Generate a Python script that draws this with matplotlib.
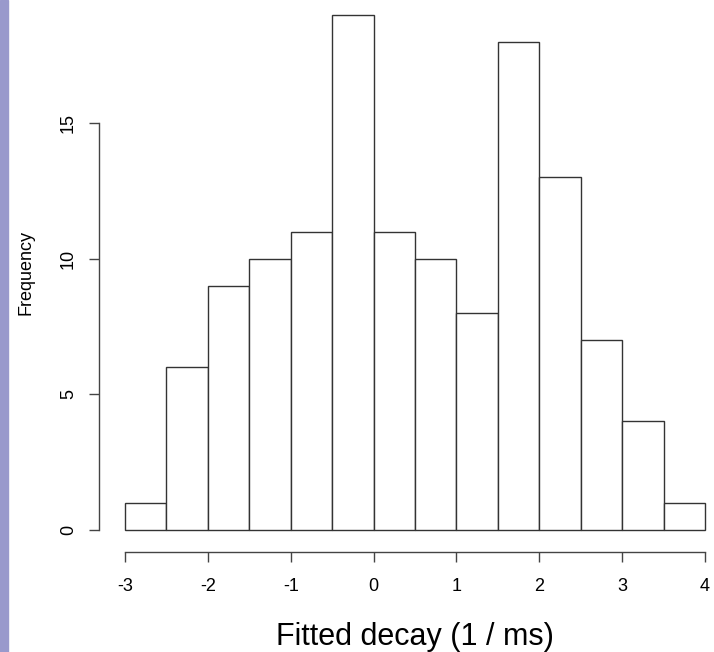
import numpy as np
import matplotlib.pyplot as plt
from matplotlib.patches import Rectangle

plt.rcParams['font.family'] = ['Liberation Sans', 'DejaVu Sans']

# histogram bins (1 / ms) and counts
bin_edges = [-3, -2.5, -2, -1.5, -1, -0.5, 0, 0.5, 1, 1.5, 2, 2.5, 3, 3.5, 4]
counts = [1, 6, 9, 10, 11, 19, 11, 10, 8, 18, 13, 7, 4, 1]
xticks = [-3, -2, -1, 0, 1, 2, 3, 4]
yticks = [0, 5, 10, 15]

fig = plt.figure(figsize=(7.14, 6.52), dpi=100)
# purple strip on the left edge
fig.patches.append(Rectangle((0, 0), 8 / 714, 1, transform=fig.transFigure,
                             color='#9999cc', zorder=0))
ax = fig.add_axes([0.1426, 0.1555, 0.8773, 0.8537])

edges = np.array(bin_edges)
ax.bar(edges[:-1], counts, width=np.diff(edges), align='edge',
       facecolor='white', edgecolor='#333333', linewidth=1.0)

ax.set_xlim(-3.28, 4.28)
ax.set_ylim(-0.76, 19.76)
for s in ['top', 'right']:
    ax.spines[s].set_visible(False)
ax.spines['left'].set_bounds(0, 15)
ax.spines['bottom'].set_bounds(-3, 4)
ax.spines['left'].set_position(('outward', 2))
ax.spines['bottom'].set_position(('outward', 1))
for s in ['left', 'bottom']:
    ax.spines[s].set_color('#444444')
    ax.spines[s].set_linewidth(1.0)

ax.set_xticks(xticks)
ax.set_xticklabels([str(t) for t in xticks], fontsize=13)
ax.set_yticks(yticks)
ax.set_yticklabels([str(t) for t in yticks], rotation=90, va='center',
                   fontsize=13)
ax.tick_params(length=7, width=1.0, color='#444444')
ax.tick_params(axis='x', pad=12)
ax.tick_params(axis='y', pad=9)

ax.set_xlabel('Fitted decay (1 / ms)', fontsize=22, labelpad=19)
ax.set_ylabel('Frequency', fontsize=13)
ax.yaxis.set_label_coords(-0.108, 0.5)

fig.savefig('out.png', dpi=100)
